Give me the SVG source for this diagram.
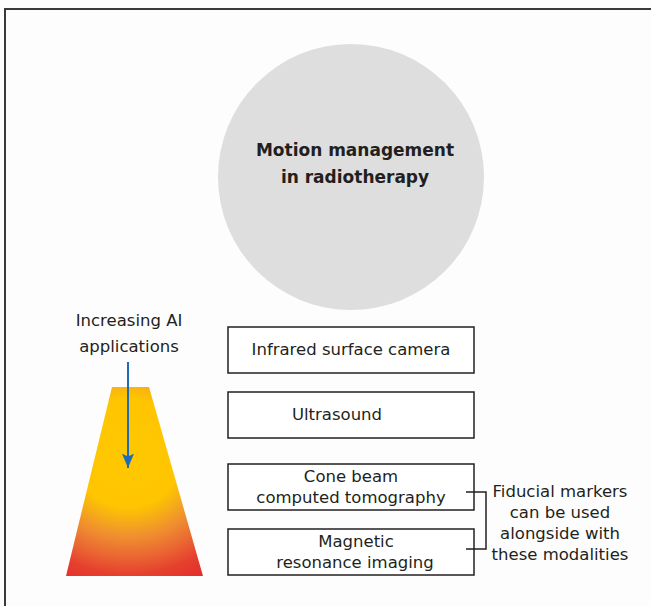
<svg xmlns="http://www.w3.org/2000/svg" width="651" height="606" viewBox="0 0 651 606">
<style>
text{font-family:"DejaVu Sans","Liberation Sans",sans-serif;fill:#231f20;text-anchor:middle}
.t{font-size:16.5px}
.b{font-size:17px;font-weight:bold}
.box{fill:#fff;stroke:#231f20;stroke-width:1.5}
.con{fill:none;stroke:#231f20;stroke-width:1.5}
</style>
<defs>
<radialGradient id="g" cx="128" cy="440" r="160" fx="128" fy="460" gradientUnits="userSpaceOnUse">
<stop offset="0" stop-color="#FFC800"/>
<stop offset="0.34" stop-color="#FEC500"/>
<stop offset="0.44" stop-color="#F6AC18"/>
<stop offset="0.56" stop-color="#EF8C30"/>
<stop offset="0.7" stop-color="#EA6432"/>
<stop offset="0.82" stop-color="#E5402E"/>
<stop offset="1" stop-color="#E2282C"/>
</radialGradient>
<marker id="ah" viewBox="0 0 12 10" refX="12" refY="5" markerWidth="7.2" markerHeight="6" orient="auto" markerUnits="strokeWidth">
<path d="M0,0 L12,5 L0,10 L2.5,5 z" fill="#1f6cb5"/>
</marker>
</defs>
<rect x="0" y="0" width="651" height="606" fill="#fdfdfd"/>
<path d="M5,606 V9 H651" fill="none" stroke="#3a3a3a" stroke-width="2"/>
<g id="hub">
<circle cx="351" cy="177" r="133" fill="#dedede"/>
<text class="b" x="355" y="156">Motion management</text>
<text class="b" x="355" y="183">in radiotherapy</text>
</g>
<g id="pyramid">
<polygon points="112,387 149,387 203,576 66,576" fill="url(#g)"/>
</g>
<g id="ai-label">
<text class="t" x="129" y="326">Increasing AI</text>
<text class="t" x="129" y="352">applications</text>
</g>
<g id="infrared">
<rect class="box" x="228" y="327" width="246" height="46"/>
<text class="t" x="351" y="355">Infrared surface camera</text>
</g>
<g id="ultrasound">
<rect class="box" x="228" y="392" width="246" height="46"/>
<text class="t" x="337" y="420">Ultrasound</text>
</g>
<g id="cbct">
<rect class="box" x="228" y="464" width="246" height="46"/>
<text class="t" x="351" y="482">Cone beam</text>
<text class="t" x="351" y="503">computed tomography</text>
</g>
<g id="mri">
<rect class="box" x="228" y="529" width="246" height="46"/>
<text class="t" x="356" y="547">Magnetic</text>
<text class="t" x="355" y="568">resonance imaging</text>
</g>
<g id="fiducial">
<text class="t" x="560" y="497">Fiducial markers</text>
<text class="t" x="560" y="518">can be used</text>
<text class="t" x="560" y="539">alongside with</text>
<text class="t" x="560" y="560">these modalities</text>
</g>
<g id="connectors">
<path class="con" d="M466,492 H486 V549 H466"/>
<line x1="128" y1="362" x2="128" y2="468" stroke="#1f6cb5" stroke-width="2" marker-end="url(#ah)"/>
</g>
</svg>
